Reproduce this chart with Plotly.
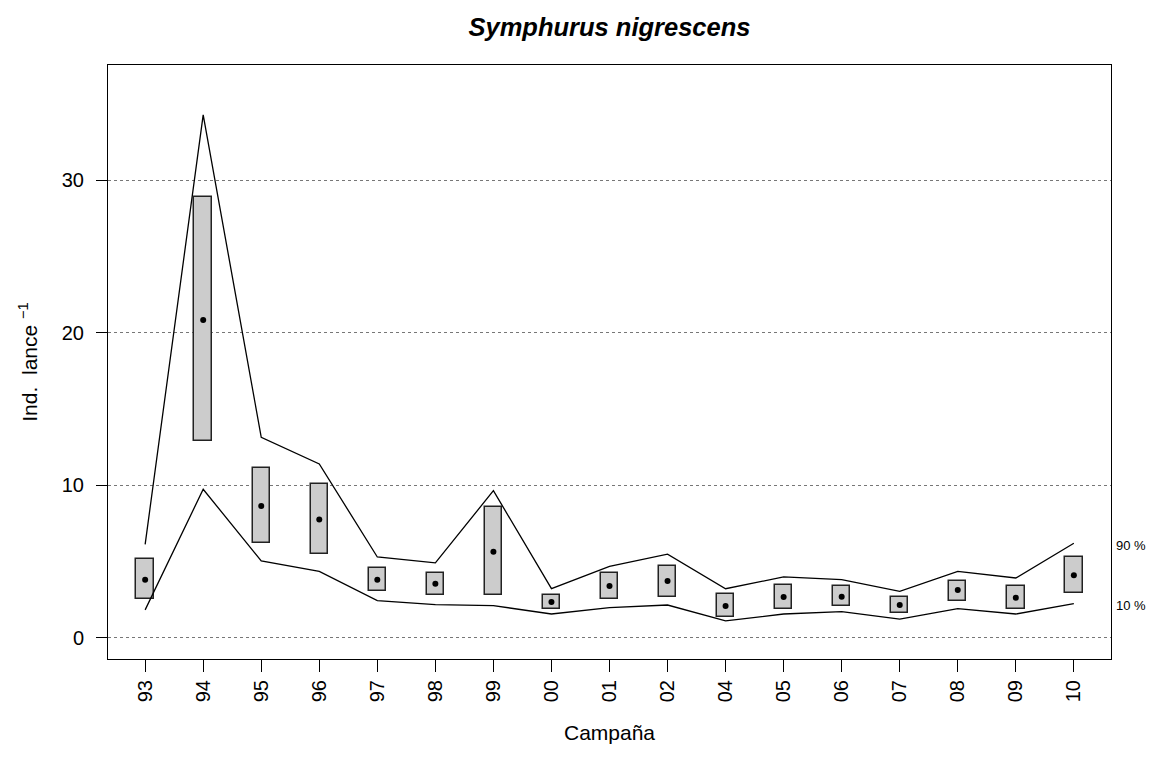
import plotly.graph_objects as go

# ---- data ----
campanas = ["93", "94", "95", "96", "97", "98", "99", "00", "01", "02",
            "04", "05", "06", "07", "08", "09", "10"]
media = [3.80, 20.83, 8.64, 7.74, 3.80, 3.54, 5.64, 2.34, 3.39, 3.72,
         2.08, 2.67, 2.69, 2.14, 3.13, 2.62, 4.09]
caja_sup = [5.14, 28.88, 11.15, 10.10, 4.59, 4.26, 8.55, 2.78, 4.26, 4.68,
            2.85, 3.46, 3.39, 2.69, 3.74, 3.39, 5.29]
caja_inf = [2.52, 12.92, 6.19, 5.49, 3.04, 2.78, 2.78, 1.88, 2.52, 2.67,
            1.38, 1.90, 2.06, 1.62, 2.41, 1.90, 2.95]
p90 = [6.12, 34.28, 13.14, 11.39, 5.29, 4.90, 9.64, 3.21, 4.68, 5.47,
       3.21, 3.98, 3.80, 3.04, 4.35, 3.91, 6.19]
p10 = [1.82, 9.73, 5.03, 4.35, 2.43, 2.16, 2.10, 1.55, 1.97, 2.14,
       1.10, 1.55, 1.70, 1.21, 1.90, 1.55, 2.23]
y_ticks = [0, 10, 20, 30]
label_90_y = 6.03
label_10_y = 2.10

idx = list(range(len(campanas)))
FONT = "Liberation Sans, Arial, Helvetica, sans-serif"

# page body has an 8px default margin: shrink the figure accordingly
W, H = 1154 - 8, 765 - 8

fig = go.Figure()

fig.add_trace(go.Bar(
    x=idx,
    y=[s - i for s, i in zip(caja_sup, caja_inf)],
    base=caja_inf,
    width=0.3,
    marker=dict(color="#CCCCCC", line=dict(color="#222222", width=1.5)),
    showlegend=False, hoverinfo="skip",
))
fig.add_trace(go.Scatter(x=idx, y=p90, mode="lines",
                         line=dict(color="black", width=1.3), showlegend=False))
fig.add_trace(go.Scatter(x=idx, y=p10, mode="lines",
                         line=dict(color="black", width=1.3), showlegend=False))
fig.add_trace(go.Scatter(x=idx, y=media, mode="markers",
                         marker=dict(color="black", size=6), showlegend=False))

fig.add_annotation(x=1.004, y=label_90_y, xref="paper", yref="y", text="90 %",
                   showarrow=False, xanchor="left", yanchor="middle", borderpad=0,
                   font=dict(size=13, color="black", family=FONT))
fig.add_annotation(x=1.004, y=label_10_y, xref="paper", yref="y", text="10 %",
                   showarrow=False, xanchor="left", yanchor="middle", borderpad=0,
                   font=dict(size=13, color="black", family=FONT))

fig.update_layout(
    width=W, height=H,
    margin=dict(l=100, r=43, t=57, b=106),
    paper_bgcolor="white", plot_bgcolor="white",
    font=dict(family=FONT, size=20, color="black"),
    title=dict(text="<b><i>Symphurus nigrescens</i></b>",
               x=0.5, xref="paper", xanchor="center",
               y=1 - 19 / H, yref="container", yanchor="middle",
               font=dict(size=25.5, family=FONT, color="black")),
    bargap=0,
)
fig.update_xaxes(
    range=[-0.64, 16.64],
    tickmode="array", tickvals=idx, ticktext=campanas, tickangle=-90,
    ticks="outside", ticklen=12, tickcolor="black", tickwidth=1,
    showline=True, linecolor="black", linewidth=1, mirror=True,
    showgrid=False, zeroline=False,
    title=dict(text="Campaña", standoff=24, font=dict(size=21)),
    tickfont=dict(size=20),
)
fig.update_yaxes(
    range=[-1.4, 37.55],
    tickmode="array", tickvals=y_ticks, ticktext=[str(v) for v in y_ticks],
    ticks="outside", ticklen=11, tickcolor="black", tickwidth=1,
    ticklabelstandoff=8,
    showline=True, linecolor="black", linewidth=1, mirror=True,
    showgrid=True, gridcolor="#777777", griddash="dot", gridwidth=1,
    zeroline=False,
    title=dict(text="Ind.  lance <sup>−1</sup>", standoff=18, font=dict(size=21)),
    tickfont=dict(size=20),
)

fig.write_html("out.html")
